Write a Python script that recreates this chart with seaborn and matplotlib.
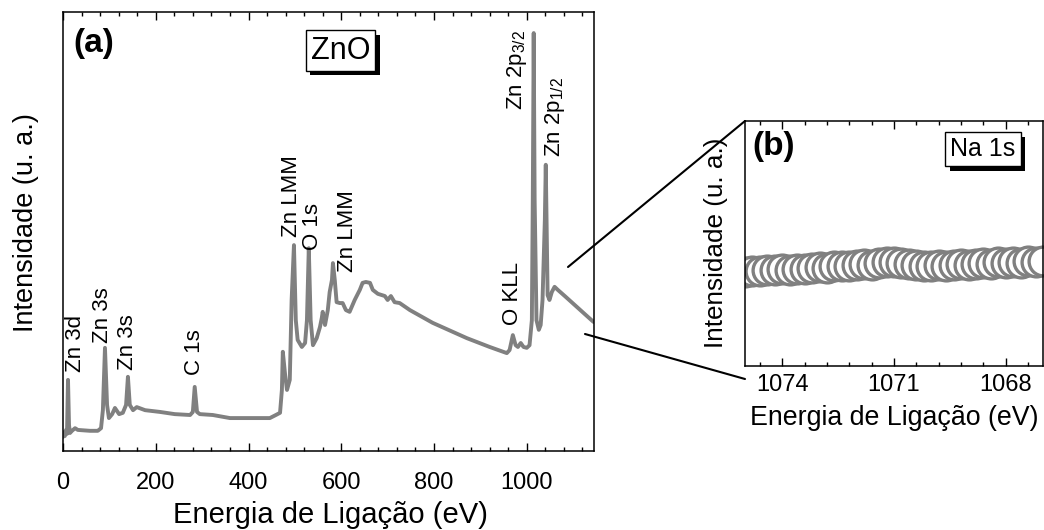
import numpy as np
import pandas as pd
import seaborn as sns
import matplotlib
matplotlib.use("Agg")
import matplotlib.pyplot as plt
from matplotlib.ticker import MultipleLocator
from matplotlib.lines import Line2D
import matplotlib.patheffects as pe

# survey spectrum (a)
survey_ev = [0, 2, 4, 6.5, 8.6, 10.8, 13, 15, 19.4, 26, 32, 58, 75, 82, 86, 90.5, 95, 99,
             106, 112, 121, 129, 136, 140, 144, 151, 159, 177, 209, 241, 274, 280, 284,
             289, 295, 323, 360, 409, 446, 459, 468, 472, 474, 479, 483, 489, 493, 498,
             502, 506, 515, 522, 526, 530, 534, 539, 547, 554, 558, 560, 565, 571, 575,
             580, 582, 586, 590, 597, 603, 610, 618, 629, 640, 646, 653, 662, 668, 679,
             694, 700, 707, 715, 726, 748, 797, 871, 920, 957, 963, 970, 976, 981, 987,
             993, 1000, 1006, 1011, 1013, 1015, 1017, 1021, 1026, 1030, 1034, 1039, 1041,
             1043, 1045, 1049, 1054, 1060, 1067, 1082, 1103, 1125, 1144]
survey_int = [3.2, 4.3, 3.4, 4.8, 3.9, 16.2, 5.9, 4.1, 4.6, 5.2, 4.8, 4.6, 4.6, 5.2, 9.3,
              23.5, 10.5, 7.5, 8.4, 9.8, 8.4, 8.7, 10.5, 16.9, 10.5, 9.3, 10.0, 9.3, 8.9,
              8.4, 8.2, 8.9, 14.6, 8.9, 8.4, 8.2, 7.5, 7.5, 7.5, 8.2, 8.7, 13.9, 22.6, 17.3,
              13.9, 16.2, 34.4, 46.9, 29.8, 25.3, 23.7, 24.6, 29.8, 46.2, 29.8, 24.1, 25.7,
              28.2, 30.3, 31.7, 28.7, 32.1, 36.2, 39.0, 42.8, 39.0, 33.9, 33.7, 33.7, 32.1,
              31.7, 34.4, 36.7, 38.3, 38.5, 38.3, 36.7, 35.8, 35.3, 34.4, 35.3, 33.9, 33.7,
              32.1, 29.2, 25.7, 23.7, 22.3, 23.0, 26.4, 24.1, 23.7, 24.6, 23.7, 23.5, 24.1,
              29.8, 57.2, 95.2, 57.2, 29.8, 27.6, 28.7, 34.4, 52.6, 65.2, 50.3, 35.5, 34.4,
              36.2, 37.4, 36.7, 35.3, 33.3, 31.2, 29.4]

# peak labels: text, x (eV), y of text bottom
peak_names = ["Zn 3d", "Zn 3s", "Zn 3s", "C 1s", "Zn LMM", "O 1s", "Zn LMM", "O KLL",
              "Zn 2p$_{3/2}$", "Zn 2p$_{1/2}$"]
peak_x = [26, 86, 140, 284, 493, 539, 614, 970, 978, 1060]
peak_y = [18.0, 24.6, 18.5, 17.3, 48.7, 45.8, 40.8, 28.7, 77.7, 67.0]

# Na 1s region (b)
na_ev = [1075.0, 1074.8, 1074.6, 1074.4, 1074.2, 1074.0, 1073.8, 1073.6, 1073.4, 1073.2,
         1073.0, 1072.8, 1072.6, 1072.4, 1072.2, 1072.0, 1071.8, 1071.6, 1071.4, 1071.2,
         1071.0, 1070.8, 1070.6, 1070.4, 1070.2, 1070.0, 1069.8, 1069.6, 1069.4, 1069.2,
         1069.0, 1068.8, 1068.6, 1068.4, 1068.2, 1068.0, 1067.8, 1067.6, 1067.4, 1067.2,
         1067.0]
na_int = [38.5, 38.9, 38.6, 39.1, 39.0, 39.4, 39.2, 39.6, 39.5, 40.0, 40.3, 40.1, 40.8,
          41.0, 40.7, 41.4, 41.6, 41.2, 41.9, 42.3, 42.6, 42.2, 41.8, 41.4, 41.0, 40.8,
          41.1, 41.0, 41.4, 41.6, 41.3, 41.8, 42.0, 41.7, 42.3, 42.0, 42.4, 42.2, 42.8,
          42.6, 43.0]

sns.set_style("ticks")
plt.rcParams['font.family'] = ['Liberation Sans', 'DejaVu Sans']
plt.rcParams['mathtext.fontset'] = 'custom'
plt.rcParams['mathtext.rm'] = 'Liberation Sans'
plt.rcParams['mathtext.default'] = 'regular'
plt.rcParams['axes.linewidth'] = 1.1
for k in ['text.color', 'axes.labelcolor', 'xtick.color', 'ytick.color', 'axes.edgecolor']:
    plt.rcParams[k] = 'black'

gray = '#808080'
W, H = 1044, 530
fig = plt.figure(figsize=(W / 100, H / 100), dpi=100)

def px_box(l, r, t, b):
    return [l / W, 1 - b / H, (r - l) / W, (b - t) / H]

ax = fig.add_axes(px_box(63, 594, 12, 451))
df = pd.DataFrame({'ev': survey_ev, 'int': survey_int})
sns.lineplot(data=df, x='ev', y='int', ax=ax, color=gray, lw=2.8, sort=False)
ax.set_xlim(0, 1145)
ax.set_ylim(0, 100)
ax.set_yticks([])
ax.xaxis.set_major_locator(MultipleLocator(200))
ax.xaxis.set_minor_locator(MultipleLocator(40))
ax.tick_params(axis='x', which='both', direction='in', top=True, labelsize=17, pad=15)
ax.tick_params(axis='x', which='major', length=6, width=1)
ax.tick_params(axis='x', which='minor', length=3, width=1)
ax.set_xlabel('Energia de Ligação (eV)', fontsize=21)
ax.set_ylabel('Intensidade (u. a.)', fontsize=19.5)
ax.xaxis.set_label_coords(0.503, -0.115)
ax.yaxis.set_label_coords(-0.045, 0.52)

for name, x, y in zip(peak_names, peak_x, peak_y):
    ax.text(x, y, name, rotation=90, ha='center', va='bottom', fontsize=16)

ax.text(0.058, 0.929, '(a)', transform=ax.transAxes, fontsize=24, fontweight='bold',
        ha='center', va='center')
t = ax.text(0.5226, 0.912, 'ZnO', transform=ax.transAxes, fontsize=22, ha='center',
            va='center', bbox=dict(boxstyle='square,pad=0.17', fc='white', ec='black', lw=1))
t.get_bbox_patch().set_path_effects([pe.SimplePatchShadow(offset=(3.2, -3.2), shadow_rgbFace='black', alpha=1), pe.Normal()])

axb = fig.add_axes(px_box(745, 1043, 121, 366))
nb = pd.DataFrame({'ev': na_ev, 'int': na_int})
sns.scatterplot(data=nb, x='ev', y='int', ax=axb, s=430, marker='o', facecolor='white',
                edgecolor=gray, linewidth=2.4)
axb.set_xlim(1075, 1067)
axb.set_ylim(0, 100)
axb.set_yticks([])
axb.xaxis.set_major_locator(MultipleLocator(3))
axb.xaxis.set_minor_locator(MultipleLocator(0.6))
axb.tick_params(axis='x', which='both', direction='in', top=True, labelsize=17, pad=6)
axb.tick_params(axis='x', which='major', length=6, width=1)
axb.tick_params(axis='x', which='minor', length=3, width=1)
axb.set_xlabel('Energia de Ligação (eV)', fontsize=19.3)
axb.set_ylabel('Intensidade (u. a.)', fontsize=18.8)
axb.xaxis.set_label_coords(0.5, -0.159)
axb.yaxis.set_label_coords(-0.057, 0.502)
axb.text(0.097, 0.894, '(b)', transform=axb.transAxes, fontsize=24, fontweight='bold',
         ha='center', va='center')
t2 = axb.text(0.799, 0.884, 'Na 1s', transform=axb.transAxes, fontsize=18, ha='center',
              va='center', bbox=dict(boxstyle='square,pad=0.2', fc='white', ec='black', lw=1))
t2.get_bbox_patch().set_path_effects([pe.SimplePatchShadow(offset=(3.2, -3.2), shadow_rgbFace='black', alpha=1), pe.Normal()])

# zoom connector lines, in figure pixels
for (x0, y0), (x1, y1) in [((568, 267), (745, 121)), ((585, 334), (745, 379))]:
    fig.add_artist(Line2D([x0 / W, x1 / W], [1 - y0 / H, 1 - y1 / H], color='black', lw=1.5))

fig.savefig('out.png', dpi=100)
